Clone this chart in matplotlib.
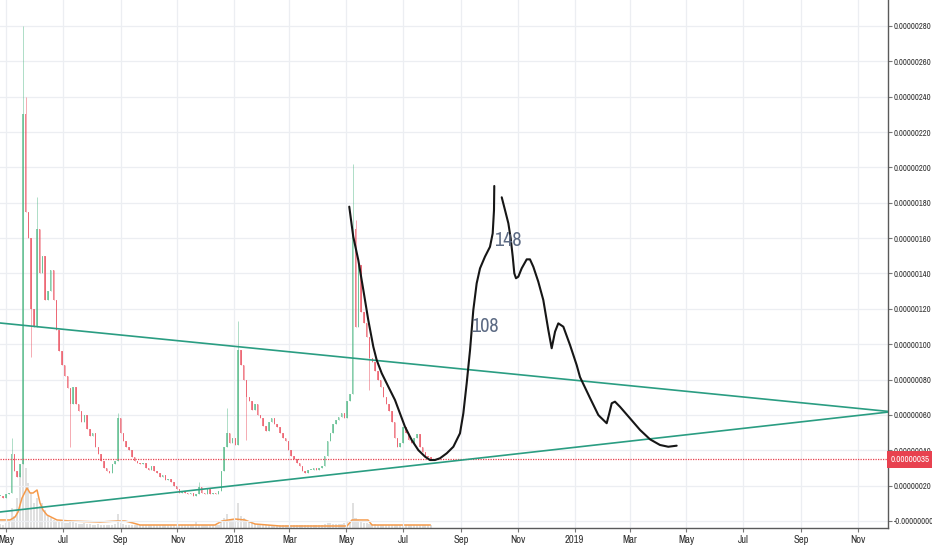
import numpy as np
import pandas as pd
import matplotlib
matplotlib.use("Agg")
import matplotlib.pyplot as plt
import matplotlib.dates as mdates
from matplotlib import font_manager
from matplotlib.ticker import FixedLocator, FuncFormatter

# ---------------- data ----------------
T0 = pd.Timestamp("2017-05-01")
SCALE = 1e-8  # price unit

# 3-day candles starting 2017-04-25 (closes, in 1e-8 units)
candle_start = "2017-04-25"
closes = [14, 13, 15, 16, 38, 28, 25, 32, 230, 175,
          160, 120, 110, 165, 140, 150, 125, 130, 142, 125,
          108, 96, 88, 82, 75, 66, 76, 66, 62, 56,
          60, 52, 48, 50, 42, 38, 34, 30, 28, 27,
          32, 34, 58, 50, 45, 42, 40, 36, 34, 33,
          32, 33, 30, 29, 31, 28, 27, 25, 26, 23,
          24, 22, 20, 18, 16, 17, 16, 15, 16, 14,
          15, 19, 16, 15, 18, 15, 16, 15, 17, 28,
          42, 50, 44, 47, 43, 97, 88, 80, 70, 68,
          63, 66, 60, 58, 54, 51, 56, 58, 55, 53,
          50, 47, 45, 40, 37, 35, 33, 31, 28, 27,
          29, 29, 30, 29, 30, 31, 37, 45, 50, 55,
          57, 59, 61, 58, 68, 72, 165, 110, 145, 118,
          112, 104, 92, 90, 85, 80, 76, 70, 66, 62,
          56, 47, 42, 44, 53, 50, 46, 44, 47, 49,
          42, 39, 37, 36, 35]
first_open = 14
high_wicks = {4: 47, 8: 280, 9: 240, 13: 183, 42: 61, 71: 22, 81: 64,
              85: 113, 126: 202, 127: 170}
low_wicks = {11: 93, 25: 42, 88: 46, 132: 74}

volumes = [4, 3, 5, 6, 20, 12, 30, 55, 70, 60, 45, 35, 25, 30, 22, 25, 18, 12, 10,
           8, 7, 6, 6, 5, 5, 8,
           6, 5, 4, 4, 5, 4, 4, 3, 3, 4, 3, 3, 3, 3, 3, 4,
           14,
           5, 4, 3, 3, 3, 3, 3, 3, 3, 3, 3, 3, 3, 3, 3, 3, 3, 3, 3, 3, 3, 3, 3, 3,
           3, 3, 3, 6, 3, 3, 3, 3, 3, 3, 3, 3,
           6, 10, 14, 8, 8, 7, 25, 12, 10, 8, 6, 5,
           4, 4, 4, 3, 3, 3, 3, 3, 3, 3, 3, 3, 3, 3, 3, 3, 3, 3, 3, 3, 3, 3, 3, 3,
           3, 4, 5, 5, 4, 4, 4, 4, 5, 6, 7,
           25,
           10, 8, 6, 5, 5, 4, 4, 4, 3, 3, 3, 3, 3, 3, 3, 3, 3, 3, 3, 3, 3, 3, 3, 3,
           3, 3, 3, 3]

# volume moving average (day offsets from T0, value)
vma_days = [-6.4, 4.3, 9.7, 12.9, 17.2, 22.5, 25.8, 29, 33.3, 36.5, 39.7, 44,
            50.4, 54.7, 68.7, 100.9, 119.1, 127.7, 136.3, 143.8, 224.2, 231.8,
            245.7, 256.4, 267.2, 294, 365.9, 371.2, 388.4, 392.7, 455]
vma_vals = [8, 8, 11, 16, 30, 40, 35, 35, 38, 25, 18, 13, 10, 8, 7, 6, 7, 7, 5,
            3, 3, 7, 9, 8, 4, 2, 2, 8, 8, 3, 3]

# trendlines (day offsets from T0, price)
upper_days = [-6.44, 946.35]
upper_vals = [112, 62]
lower_days = [-6.44, 946.35]
lower_vals = [5.1, 61.6]

last_price = 35

# hand drawn projection strokes (day offsets from T0, price)
stroke1_days = [368.3, 372.6, 378.0, 383.4, 388.7, 394.1, 397.7, 403.1, 410.2,
                417.4, 422.7, 428.1, 435.3, 442.4, 449.6, 454.9, 460.3, 465.7,
                472.9, 480.0, 487.1, 490.7, 494.3, 497.9, 501.4, 505.0, 508.6,
                513.9, 519.3, 522.2, 523.6, 523.9]
stroke1_vals = [177.8, 160.8, 147.6, 130.7, 113.7, 98.6, 91.1, 83.6, 76.0,
                68.4, 60.9, 53.3, 45.8, 40.1, 36.4, 34.5, 34.5, 35.5,
                38.3, 42.0, 49.6, 60.9, 77.9, 96.7, 119.3, 134.4, 142.9,
                149.5, 155.1, 162.7, 175.9, 189.5]
stroke2_days = [531.9, 535.4, 539.0, 541.5, 543.7, 545.4, 547.2, 549.7, 553.3,
                558.7, 562.2, 565.8, 571.1, 576.5, 581.9, 585.5, 589.1, 592.6,
                598.0, 605.2, 612.3, 615.9, 626.6, 635.5, 637.3, 644.5, 647.3,
                649.9, 653.4, 658.8, 669.5, 680.3, 691.0, 701.7, 710.6, 719.6]
stroke2_vals = [183.1, 175.9, 168.4, 159.9, 149.5, 140.1, 137.3, 138.2, 142.9,
                148.0, 148.0, 143.8, 135.4, 125.0, 108.0, 97.7, 107.1, 111.8,
                109.9, 99.5, 88.2, 81.4, 69.6, 60.0, 59.0, 55.3, 60.9,
                66.6, 67.5, 64.6, 58.1, 51.5, 46.2, 43.0, 42.0, 42.6]

notes = ["148", "108"]
note_days = [523.6, 498.9]
note_vals = [158.9, 110.3]

ytick_vals = list(range(0, 281, 20))
xtick_dates = pd.date_range("2017-05-01", "2019-11-01", freq="2MS")
x_range_days = [-6.44, 946.35]
y_range = [-3.96, 294.7]

# ---------------- style ----------------
names = sorted({f.name for f in font_manager.fontManager.ttflist})
cond = [n for n in names if ("Narrow" in n or "Condensed" in n)]
if cond:
    narrow = cond[0]
    ysize, xsize, nsize = 6.1, 7.6, 14.5
else:
    narrow = "Liberation Sans"
    ysize, xsize, nsize = 5.0, 6.6, 12.0

UP = "#53b987"
DN = "#eb4d5c"
GRID = "#eceef2"
TEAL = "#2a9d82"

def d2n(days):
    return mdates.date2num([T0 + pd.Timedelta(days=float(d)) for d in days])

fig = plt.figure(figsize=(9.32, 5.5), dpi=100)
fig.patch.set_facecolor("white")
ax = fig.add_axes([0, 22 / 550, 888 / 932, 528 / 550])
vol = ax.twinx()
ax.set_zorder(vol.get_zorder() + 1)
ax.patch.set_visible(False)
vol.set_facecolor("white")

cdates = mdates.date2num(pd.date_range(candle_start, periods=len(closes), freq="3D"))
opens = [first_open] + closes[:-1]

# volume
vol.bar(cdates, volumes, width=2.2, color="#cccccc", alpha=0.6, linewidth=0, zorder=1)
vol.plot(d2n(vma_days), vma_vals, color="#f59a4a", lw=1.1, zorder=2)
vol.set_ylim(0, 528)
vol.axis("off")

# candles
for i, (t, o, c) in enumerate(zip(cdates, opens, closes)):
    col = UP if c >= o else DN
    hi = high_wicks.get(i, max(o, c))
    lo = low_wicks.get(i, min(o, c))
    ax.vlines(t, lo * SCALE, hi * SCALE, color=col, lw=0.6, alpha=0.55, zorder=3)
    bottom = min(o, c)
    h = max(abs(c - o), 0.6)
    ax.bar(t, h * SCALE, bottom=bottom * SCALE, width=1.6, color=col, alpha=0.7,
           linewidth=0, zorder=3)

# trendlines
ax.plot(d2n(upper_days), np.array(upper_vals) * SCALE, color=TEAL, lw=1.2, zorder=5)
ax.plot(d2n(lower_days), np.array(lower_vals) * SCALE, color=TEAL, lw=1.2, zorder=5)

# last price line
ax.axhline(last_price * SCALE, color="#e8414f", lw=0.9, ls=(0, (1, 1)), zorder=4)

# hand drawn strokes
for dd, vv in ((stroke1_days, stroke1_vals), (stroke2_days, stroke2_vals)):
    ax.plot(d2n(dd), np.array(vv) * SCALE, color="#161616", lw=1.5,
            solid_joinstyle="round", solid_capstyle="round", zorder=6)

for txt, dd, vv in zip(notes, note_days, note_vals):
    ax.text(d2n([dd])[0], vv * SCALE, txt, fontsize=nsize, family=narrow,
            color="#5d6b84", ha="left", va="center", zorder=7)

# axes
ax.set_xlim(*d2n(x_range_days))
ax.set_ylim(y_range[0] * SCALE, y_range[1] * SCALE)
ax.yaxis.tick_right()
ax.yaxis.set_major_locator(FixedLocator([v * SCALE for v in ytick_vals]))

def yfmt(v, pos):
    if abs(v) < 1e-12:
        return "-0.00000000"
    return f"{v:.8f}"

ax.yaxis.set_major_formatter(FuncFormatter(yfmt))
ax.xaxis.set_major_locator(FixedLocator(mdates.date2num(xtick_dates)))
ax.xaxis.set_major_formatter(FuncFormatter(
    lambda v, p: (str(mdates.num2date(v).year) if mdates.num2date(v).month == 1
                  else mdates.num2date(v).strftime("%b"))))
ax.grid(True, color=GRID, lw=0.9)
ax.set_axisbelow(True)
for s in ("top", "left"):
    ax.spines[s].set_visible(False)
for s in ("right", "bottom"):
    ax.spines[s].set_color("#5a5a5a")
    ax.spines[s].set_linewidth(1.0)
ax.tick_params(axis="y", direction="out", length=3, width=0.8, color="#777",
               labelsize=ysize, labelcolor="#333", pad=1.0)
ax.tick_params(axis="x", direction="out", length=3, width=0.8, color="#777",
               labelsize=xsize, labelcolor="#333", pad=2)
for lab in ax.get_xticklabels() + ax.get_yticklabels():
    lab.set_family(narrow)

ax.annotate(f"{last_price * SCALE:.8f}", xy=(1, last_price * SCALE),
            xycoords=("axes fraction", "data"), xytext=(2, 0),
            textcoords="offset points", ha="left", va="center", color="white",
            fontsize=ysize + 0.3, family=narrow, zorder=20, annotation_clip=False,
            bbox=dict(boxstyle="square,pad=0.45", fc="#e8414f", ec="none"))

fig.savefig("out.png", dpi=100, facecolor="white")
